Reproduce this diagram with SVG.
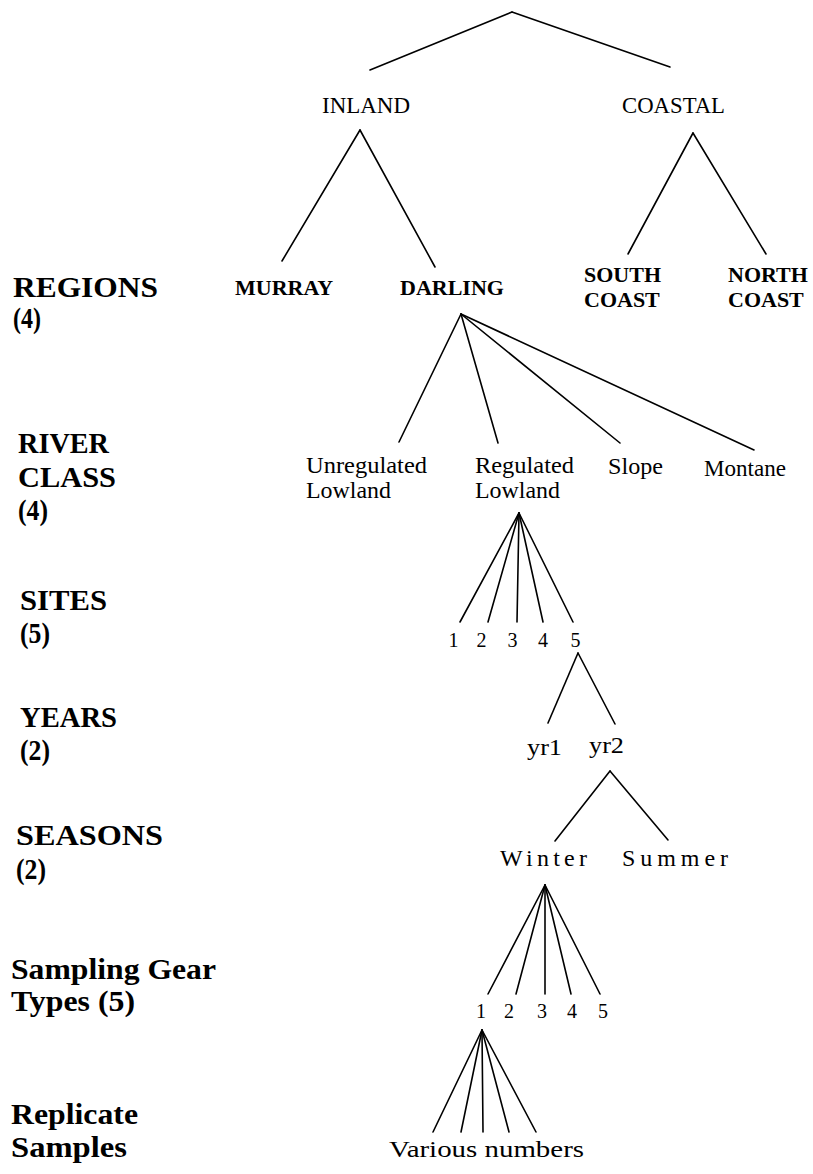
<svg xmlns="http://www.w3.org/2000/svg" width="813" height="1174" viewBox="0 0 813 1174">
<style>
  .n { font-family: "Liberation Serif", "Times New Roman", serif; font-size: 24px; fill: #000; }
  .b { font-family: "Liberation Serif", "Times New Roman", serif; font-size: 22px; font-weight: bold; fill: #000; }
  .d { font-family: "Liberation Serif", "Times New Roman", serif; font-size: 20px; fill: #000; text-anchor: middle; }
  .h { font-family: "Liberation Serif", "Times New Roman", serif; font-size: 30px; font-weight: bold; fill: #000; }
  .c line { stroke: #000; stroke-width: 1.6; stroke-linecap: round; }
</style>
<rect width="813" height="1174" fill="#fff"/>

<g id="level-labels">
  <text class="h" x="13" y="297" textLength="145" lengthAdjust="spacingAndGlyphs">REGIONS</text>
  <text class="h" x="13" y="328" textLength="28" lengthAdjust="spacingAndGlyphs">(4)</text>
  <text class="h" x="18" y="453" textLength="91" lengthAdjust="spacingAndGlyphs">RIVER</text>
  <text class="h" x="18" y="487" textLength="98" lengthAdjust="spacingAndGlyphs">CLASS</text>
  <text class="h" x="18" y="520" textLength="30" lengthAdjust="spacingAndGlyphs">(4)</text>
  <text class="h" x="20" y="610" textLength="87" lengthAdjust="spacingAndGlyphs">SITES</text>
  <text class="h" x="20" y="643" textLength="30" lengthAdjust="spacingAndGlyphs">(5)</text>
  <text class="h" x="20" y="727" textLength="97" lengthAdjust="spacingAndGlyphs">YEARS</text>
  <text class="h" x="20" y="760" textLength="30" lengthAdjust="spacingAndGlyphs">(2)</text>
  <text class="h" x="16" y="845" textLength="147" lengthAdjust="spacingAndGlyphs">SEASONS</text>
  <text class="h" x="16" y="879" textLength="30" lengthAdjust="spacingAndGlyphs">(2)</text>
  <text class="h" x="11" y="979" textLength="205" lengthAdjust="spacingAndGlyphs">Sampling Gear</text>
  <text class="h" x="11" y="1011" textLength="124" lengthAdjust="spacingAndGlyphs">Types (5)</text>
  <text class="h" x="11" y="1124" textLength="127" lengthAdjust="spacingAndGlyphs">Replicate</text>
  <text class="h" x="11" y="1157" textLength="116" lengthAdjust="spacingAndGlyphs">Samples</text>
</g>

<g id="connectors" class="c">
  <line x1="512" y1="12" x2="370" y2="70"/>
  <line x1="512" y1="12" x2="670" y2="67"/>
  <line x1="360" y1="130" x2="282" y2="261"/>
  <line x1="360" y1="130" x2="435" y2="267"/>
  <line x1="693" y1="133" x2="628" y2="254"/>
  <line x1="693" y1="133" x2="766" y2="254"/>
  <line x1="461" y1="314" x2="399" y2="442"/>
  <line x1="461" y1="314" x2="498" y2="443"/>
  <line x1="461" y1="314" x2="620" y2="443"/>
  <line x1="461" y1="314" x2="754" y2="450"/>
  <line x1="519" y1="513" x2="460" y2="622"/>
  <line x1="519" y1="513" x2="488" y2="622"/>
  <line x1="519" y1="513" x2="517" y2="622"/>
  <line x1="519" y1="513" x2="543" y2="622"/>
  <line x1="519" y1="513" x2="573" y2="622"/>
  <line x1="578" y1="653" x2="548" y2="723"/>
  <line x1="578" y1="653" x2="615" y2="724"/>
  <line x1="610" y1="771" x2="555" y2="841"/>
  <line x1="610" y1="771" x2="668" y2="840"/>
  <line x1="545" y1="885" x2="488" y2="994"/>
  <line x1="545" y1="885" x2="516" y2="994"/>
  <line x1="545" y1="885" x2="545" y2="994"/>
  <line x1="545" y1="885" x2="571" y2="994"/>
  <line x1="545" y1="885" x2="600" y2="994"/>
  <line x1="482" y1="1030" x2="433" y2="1132"/>
  <line x1="482" y1="1030" x2="461" y2="1132"/>
  <line x1="482" y1="1030" x2="483" y2="1132"/>
  <line x1="482" y1="1030" x2="509" y2="1132"/>
  <line x1="482" y1="1030" x2="536" y2="1132"/>
</g>

<g id="node-inland"><text class="n" x="322" y="113" textLength="88" lengthAdjust="spacingAndGlyphs">INLAND</text></g>
<g id="node-coastal"><text class="n" x="622" y="113" textLength="103" lengthAdjust="spacingAndGlyphs">COASTAL</text></g>
<g id="node-murray"><text class="b" x="235" y="295">MURRAY</text></g>
<g id="node-darling"><text class="b" x="400" y="295">DARLING</text></g>
<g id="node-south-coast"><text class="b" x="584" y="282">SOUTH</text><text class="b" x="584" y="307">COAST</text></g>
<g id="node-north-coast"><text class="b" x="728" y="282">NORTH</text><text class="b" x="728" y="307">COAST</text></g>
<g id="node-unregulated-lowland"><text class="n" x="306" y="473" textLength="121" lengthAdjust="spacingAndGlyphs">Unregulated</text><text class="n" x="306" y="498" textLength="85" lengthAdjust="spacingAndGlyphs">Lowland</text></g>
<g id="node-regulated-lowland"><text class="n" x="475" y="473" textLength="99" lengthAdjust="spacingAndGlyphs">Regulated</text><text class="n" x="475" y="498" textLength="85" lengthAdjust="spacingAndGlyphs">Lowland</text></g>
<g id="node-slope"><text class="n" x="608" y="474" textLength="55" lengthAdjust="spacingAndGlyphs">Slope</text></g>
<g id="node-montane"><text class="n" x="704" y="476" textLength="82" lengthAdjust="spacingAndGlyphs">Montane</text></g>
<g id="node-site-1"><text class="d" x="453.5" y="647">1</text></g>
<g id="node-site-2"><text class="d" x="481.5" y="647">2</text></g>
<g id="node-site-3"><text class="d" x="512.5" y="647">3</text></g>
<g id="node-site-4"><text class="d" x="543" y="647">4</text></g>
<g id="node-site-5"><text class="d" x="575.5" y="647">5</text></g>
<g id="node-yr1"><text class="n" x="527" y="755" font-size="22" textLength="35" lengthAdjust="spacingAndGlyphs">yr1</text></g>
<g id="node-yr2"><text class="n" x="589" y="753" font-size="22" textLength="35" lengthAdjust="spacingAndGlyphs">yr2</text></g>
<g id="node-winter"><text class="n" x="500" y="866" textLength="87">Winter</text></g>
<g id="node-summer"><text class="n" x="622" y="866" textLength="106">Summer</text></g>
<g id="node-gear-1"><text class="d" x="481" y="1018">1</text></g>
<g id="node-gear-2"><text class="d" x="509" y="1018">2</text></g>
<g id="node-gear-3"><text class="d" x="542" y="1018">3</text></g>
<g id="node-gear-4"><text class="d" x="572" y="1018">4</text></g>
<g id="node-gear-5"><text class="d" x="603" y="1018">5</text></g>
<g id="node-replicates"><text class="n" x="389" y="1157" textLength="195" lengthAdjust="spacingAndGlyphs">Various numbers</text></g>
</svg>
